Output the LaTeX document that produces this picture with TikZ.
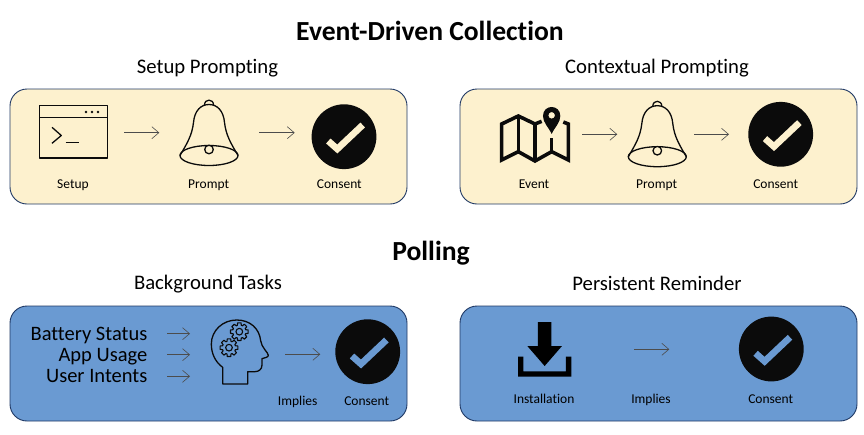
\documentclass[tikz,border=0pt]{standalone}
\usepackage{fontspec}
\setmainfont{Carlito}[Ligatures=NoCommon]
\usetikzlibrary{arrows.meta}
\definecolor{panelyellow}{HTML}{FDF1CE}
\definecolor{panelblue}{HTML}{6A9AD2}
\definecolor{panelline}{HTML}{1F3864}
\definecolor{inkdark}{HTML}{0B0B0B}
\tikzset{
  x=1pt,y=-1pt,
  panelbox/.style={draw=panelline,line width=0.9pt,rounded corners=17pt},
  yellowpanel/.style={panelbox,fill=panelyellow},
  bluepanel/.style={panelbox,fill=panelblue},
  maintitle/.style={font=\bfseries\fontsize{27.6}{30}\selectfont,text=black,inner sep=0pt,anchor=base},
  subtitle/.style={font=\fontsize{20.7}{24}\selectfont,text=black,inner sep=0pt,anchor=base},
  smalllabel/.style={font=\fontsize{13.5}{15}\selectfont,text=black,inner sep=0pt,anchor=base},
  biglabel/.style={font=\fontsize{20.5}{24}\selectfont,text=black,inner sep=0pt,anchor=base east},
  flow/.style={draw=black!70,line width=0.6pt,-{Straight Barb[length=7pt,width=12pt,line width=0.6pt]}},
  iconline/.style={draw=inkdark,line width=1.3pt,line join=round},
  pics/bellicon/.style={code={
    \draw[iconline] (-29,0) .. controls (-22,-12) and (-17,-20) .. (-15.5,-33)
      .. controls (-14.5,-45) and (-8,-51) .. (0,-51)
      .. controls (8,-51) and (14.5,-45) .. (15.5,-33)
      .. controls (17,-20) and (22,-12) .. (29,0);
    \draw[iconline] (-4.5,-50.5) .. controls (-4.5,-57) and (4.5,-57) .. (4.5,-50.5);
    \draw[iconline] (0,0) ellipse [x radius=29,y radius=10];
    \draw[iconline,fill=panelyellow] (0,-6) circle (4.3);
  }},
  pics/checkicon/.style={code={
    \fill[inkdark] (0,0) circle (32.4);
    \draw[#1,line width=6.6pt,line join=miter] (-15.7,4.3) -- (-6.7,12.3) -- (18.7,-11.7);
  }},
  pics/gearicon/.style={code={
    \draw[iconline,line width=1.1pt] (-11:27)
      \foreach \a in {0,45,...,315} { -- (\a-11:27) -- (\a+11:27) -- (\a+17:20) -- (\a+28:20) } -- cycle;
    \draw[iconline,line width=1.1pt] (0,0) circle (10);
  }}
}
\begin{document}
\begin{tikzpicture}
\useasboundingbox (0,0) rectangle (864,434);

% panels
\path[yellowpanel] (10,89) rectangle (407,204);
\path[yellowpanel] (460,89) rectangle (857,204);
\path[bluepanel] (10,306) rectangle (407,421);
\path[bluepanel] (460,306) rectangle (857,421);

% titles
\node[maintitle] (titleA) at (430,40) {Event-Driven Collection};
\node[maintitle] (titleB) at (431,260) {Polling};
\node[subtitle] (subA) at (207.5,73.5) {Setup Prompting};
\node[subtitle] (subB) at (657,73.5) {Contextual Prompting};
\node[subtitle] (subC) at (208,289.5) {Background Tasks};
\node[subtitle] (subD) at (657,290.5) {Persistent Reminder};

% terminal window icon
\draw[iconline] (39.5,105.7) rectangle (107.7,158);
\draw[iconline] (39.5,117.7) -- (107.7,117.7);
\fill[inkdark] (86,112) circle (1.3) (92,112) circle (1.3) (98,112) circle (1.3);
\draw[iconline] (52,127.3) -- (61.3,135.5) -- (52,143.3);
\draw[iconline] (65.7,142.7) -- (79,142.7);

% bells
\pic at (209,155.5) {bellicon};
\pic at (657.3,156.7) {bellicon};

% checks
\pic at (344,136.7) {checkicon=panelyellow};
\pic at (780.7,134.3) {checkicon=panelyellow};
\pic at (367.7,351.7) {checkicon=panelblue};
\pic at (771.3,349) {checkicon=panelblue};

% map icon
\begin{scope}[shift={(450,80)},x=0.3333pt,y=-0.3333pt]
  \draw[draw=inkdark,line width=3.6pt,line join=miter]
    (275,124) -- (255,132) -- (205,108) -- (155,132) -- (155,240) -- (205,215) -- (255,243) -- (305,215) -- (355,240) -- (355,132) -- (340,126);
  \draw[draw=inkdark,line width=3.6pt] (205,108) -- (205,215);
  \draw[draw=inkdark,line width=3.6pt] (255,132) -- (255,243);
  \draw[draw=inkdark,line width=3.6pt] (305,175) -- (305,215);
  \fill[inkdark,even odd rule] (305,162) .. controls (295,140) and (279,128) .. (279,108)
     .. controls (279,72) and (331,72) .. (331,108)
     .. controls (331,128) and (315,140) .. (305,162) -- cycle
     (305,106) circle (10);
\end{scope}

% head icon
\begin{scope}[shift={(200,310)},x=0.3333pt,y=-0.3333pt]
  \draw[iconline,line width=1.3pt] (68,222) -- (68,172)
    .. controls (45,155) and (34,130) .. (34,102)
    .. controls (34,62) and (68,30) .. (110,30)
    .. controls (150,30) and (178,55) .. (182,92)
    .. controls (184,112) and (205,128) .. (205,136)
    .. controls (205,142) and (195,143) .. (186,146)
    -- (186,165)
    .. controls (186,178) and (176,185) .. (165,185)
    -- (143,185) -- (143,222) -- cycle;
  \pic at (118,65) {gearicon};
  \pic at (87,113) {gearicon};
\end{scope}

% download icon
\begin{scope}[shift={(450,300)},x=0.3333pt,y=-0.3333pt]
  \fill[black] (264,66) -- (304,66) -- (304,138) -- (336,138) -- (284,198) -- (232,138) -- (264,138) -- cycle;
  \fill[black] (204,170) -- (220,170) -- (220,214) -- (348,214) -- (348,170) -- (364,170) -- (364,230) -- (204,230) -- cycle;
\end{scope}

% labels
\node[smalllabel] (lSetup) at (73,188.3) {Setup};
\node[smalllabel] (lPromptA) at (208.7,188.3) {Prompt};
\node[smalllabel] (lConsentA) at (339.3,188.3) {Consent};
\node[smalllabel] (lEvent) at (534,188.3) {Event};
\node[smalllabel] (lPromptB) at (656.7,188.3) {Prompt};
\node[smalllabel] (lConsentB) at (775.7,188.3) {Consent};
\node[smalllabel] (lImpliesC) at (297.7,405.7) {Implies};
\node[smalllabel] (lConsentC) at (366.7,405.7) {Consent};
\node[smalllabel] (lInstall) at (544,403.3) {Installation};
\node[smalllabel] (lImpliesD) at (651,403.3) {Implies};
\node[smalllabel] (lConsentD) at (770.7,403.3) {Consent};
\node[biglabel] (lBattery) at (147.5,340) {Battery Status};
\node[biglabel] (lApp) at (147.5,361.3) {App Usage};
\node[biglabel] (lUser) at (147.5,382.7) {User Intents};

% connector ends
\coordinate (a1) at (124,132.7);   \coordinate (a2) at (159.3,132.7);
\coordinate (b1) at (259.3,132.7); \coordinate (b2) at (294.7,132.7);
\coordinate (c1) at (582.3,134.3); \coordinate (c2) at (617.3,134.3);
\coordinate (d1) at (694,134.3);   \coordinate (d2) at (729,134.3);
\coordinate (e1) at (167,333.7);   \coordinate (e2) at (190,333.7);
\coordinate (f1) at (167,354.7);   \coordinate (f2) at (190,354.7);
\coordinate (g1) at (167,376.3);   \coordinate (g2) at (190,376.3);
\coordinate (h1) at (285.3,354.3); \coordinate (h2) at (320.3,354.3);
\coordinate (i1) at (634,349.3);   \coordinate (i2) at (669.3,349.3);
\foreach \s/\t in {a1/a2,b1/b2,c1/c2,d1/d2,e1/e2,f1/f2,g1/g2,h1/h2,i1/i2}
  \draw[flow] (\s) -- (\t);
\end{tikzpicture}
\end{document}
